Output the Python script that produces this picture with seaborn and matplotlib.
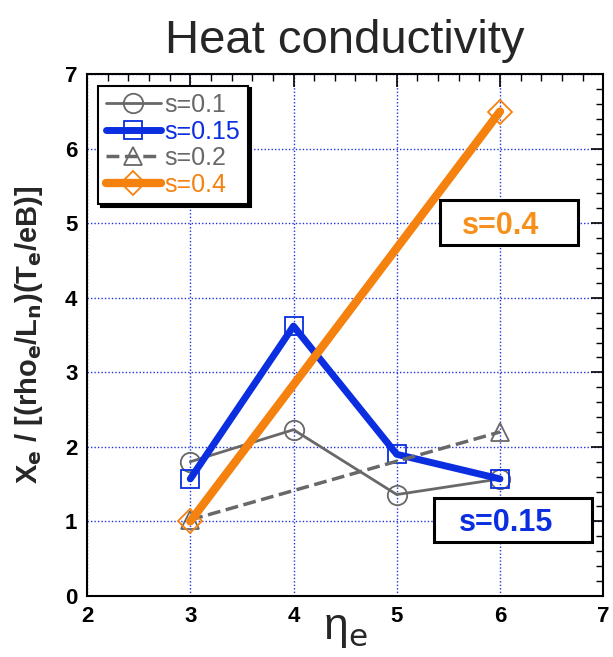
import matplotlib
matplotlib.use("Agg")
import matplotlib.pyplot as plt
import seaborn as sns
import pandas as pd
from matplotlib.ticker import MultipleLocator
from matplotlib.patches import Rectangle

sns.set_style("white")
plt.rcParams['font.family'] = ['Liberation Sans', 'DejaVu Sans']

# data
x_s01 = [3, 4, 5, 6]
y_s01 = [1.80, 2.23, 1.36, 1.57]
x_s015 = [3, 4, 5, 6]
y_s015 = [1.57, 3.62, 1.90, 1.57]
x_s02 = [3, 6]
y_s02 = [1.02, 2.20]
x_s04 = [3, 6]
y_s04 = [1.00, 6.50]
labels = ["s=0.1", "s=0.15", "s=0.2", "s=0.4"]

series = [(x_s01, y_s01), (x_s015, y_s015), (x_s02, y_s02), (x_s04, y_s04)]
colors = ["#686868", "#0a2ee0", "#686868", "#f5810f"]
markers = ["o", "s", "^", "D"]
lws = [2.0, 5.0, 2.5, 6.0]
styles = ["-", "-", "--", "-"]
msizes = [14, 13, 13, 12]

fig = plt.figure(figsize=(6.13, 6.57), dpi=100)
ax = fig.add_axes([0.142, 0.093, 0.842, 0.794])

for (xs, ys), lab, c, m, lw, ls, ms in zip(series, labels, colors, markers, lws, styles, msizes):
    df = pd.DataFrame({"x": xs, "y": ys})
    sns.lineplot(data=df, x="x", y="y", ax=ax, color=c, lw=lw, linestyle=ls,
                 marker=m, markersize=ms, markerfacecolor="none",
                 markeredgecolor=c, markeredgewidth=1.3, label=lab,
                 dashes=(3, 2.2) if ls == "--" else "")

ax.set_xlim(2, 7)
ax.set_ylim(0, 7)
ax.xaxis.set_major_locator(MultipleLocator(1))
ax.yaxis.set_major_locator(MultipleLocator(1))
ax.xaxis.set_minor_locator(MultipleLocator(0.2))
ax.yaxis.set_minor_locator(MultipleLocator(0.2))
ax.tick_params(which="both", direction="in", top=True, right=True, colors="black")
ax.tick_params(which="major", length=9, width=1.2, labelsize=16, pad=7)
ax.tick_params(which="minor", length=5, width=1.0)
for lbl in ax.get_xticklabels() + ax.get_yticklabels():
    lbl.set_fontweight("bold")
ax.grid(True, which="major", color="#2233dd", linestyle=(0, (1, 1.5)), lw=1.0)
for sp in ax.spines.values():
    sp.set_color("black")
    sp.set_linewidth(1.5)

ax.set_title("Heat conductivity", fontsize=34, pad=15)
ax.set_xlabel("η$_{\\mathrm{e}}$", fontsize=32, labelpad=-13)
ax.set_ylabel(r"X$_\mathbf{e}$ / [(rho$_\mathbf{e}$/L$_\mathbf{n}$)(T$_\mathbf{e}$/eB)]",
              fontsize=21, fontweight="bold", labelpad=14)

leg = ax.legend(loc="upper left", bbox_to_anchor=(0.012, 0.988), fontsize=18,
                frameon=True, fancybox=False, shadow={'color': 'black', 'alpha': 1},
                handlelength=2.2, handletextpad=0.15, borderpad=0.3, labelspacing=0.1,
                borderaxespad=0.2)
leg.get_frame().set_edgecolor("black")
leg.get_frame().set_linewidth(1.5)
for t, c in zip(leg.get_texts(), colors):
    t.set_color(c)

# annotation boxes
ax.add_patch(Rectangle((0.818 - 0.1335, 0.7155 - 0.0431), 0.267, 0.0862, transform=ax.transAxes,
                       fc="white", ec="black", lw=2.2, zorder=5))
ax.text(0.802, 0.7155, "s=0.4", transform=ax.transAxes, fontsize=22, fontweight="bold",
        color="#f7901a", ha="center", va="center_baseline", zorder=6)
ax.add_patch(Rectangle((0.8256 - 0.153, 0.1456 - 0.0422), 0.306, 0.0843, transform=ax.transAxes,
                       fc="white", ec="black", lw=2.2, zorder=5))
ax.text(0.812, 0.1456, "s=0.15", transform=ax.transAxes, fontsize=22, fontweight="bold",
        color="#0a2ee0", ha="center", va="center_baseline", zorder=6)

fig.savefig("out.png", dpi=100)
